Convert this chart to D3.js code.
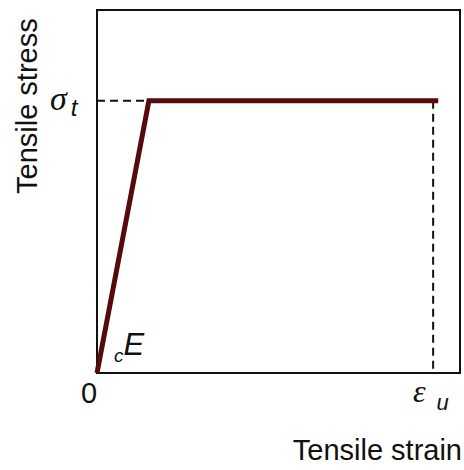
<!DOCTYPE html>
<html lang="en">
<head>
<meta charset="UTF-8">
<title>tensile</title>
<script src="https://cdn.jsdelivr.net/npm/d3@7"></script>
<style>
    body { margin:0; background:#fff; }
    .lbl { font-family: "Liberation Sans", Arial, sans-serif; fill:#111; }
    .sym { font-family: "Liberation Serif", "DejaVu Serif", serif; font-style: italic; fill:#111; }
</style>
</head>
<body>
<div id="chart"></div>
<script>
// normalised strain / stress values of the bilinear model
var strainPts = [0, 0.143, 0.94];
var stressPts = [0, 0.75, 0.75];
var sigmaT = 0.75;      // tensile strength level
var epsU = 0.926;       // ultimate strain
var epsY = 0.143;       // strain at sigma_t

var W = 464, H = 470;
var svg = d3.select("#chart").append("svg")
    .attr("width", W).attr("height", H);

var x = d3.scaleLinear().domain([0, 1]).range([97, 460]);
var y = d3.scaleLinear().domain([0, 1]).range([373, 10]);

// frame
svg.append("rect")
    .attr("x", x(0)).attr("y", y(1))
    .attr("width", x(1) - x(0)).attr("height", y(0) - y(1))
    .attr("fill", "none").attr("stroke", "#111").attr("stroke-width", 2);

// dashed guides
svg.append("line")
    .attr("x1", x(0)).attr("x2", x(epsY))
    .attr("y1", y(sigmaT)).attr("y2", y(sigmaT))
    .attr("stroke", "#111").attr("stroke-width", 2).attr("stroke-dasharray", "8,5");
svg.append("line")
    .attr("x1", x(epsU)).attr("x2", x(epsU))
    .attr("y1", y(sigmaT)).attr("y2", y(0))
    .attr("stroke", "#111").attr("stroke-width", 2).attr("stroke-dasharray", "8,5");

// stress-strain curve
var pts = strainPts.map(function(s, i){ return [s, stressPts[i]]; });
var line = d3.line().x(function(d){ return x(d[0]); }).y(function(d){ return y(d[1]); });
svg.append("path")
    .attr("d", line(pts))
    .attr("fill", "none").attr("stroke", "#560a0c").attr("stroke-width", 5)
    .attr("stroke-linejoin", "miter");

// axis titles
svg.append("text").attr("class", "lbl")
    .attr("transform", "translate(37,194) rotate(-90)")
    .attr("font-size", 29)
    .text("Tensile stress");
svg.append("text").attr("class", "lbl")
    .attr("x", 462).attr("y", 460).attr("text-anchor", "end")
    .attr("font-size", 29)
    .text("Tensile strain");

// symbols
var sig = svg.append("text").attr("class", "sym")
    .attr("x", 50).attr("y", 110).attr("font-size", 34);
sig.append("tspan").text("σ");
sig.append("tspan").attr("class", "lbl").attr("font-size", 24).attr("dx", 4).attr("dy", 6)
    .attr("font-style", "italic").text("t");

svg.append("text").attr("class", "lbl")
    .attr("x", x(0) - 8).attr("y", 403).attr("text-anchor", "middle")
    .attr("font-size", 29).text("0");

var eps = svg.append("text").attr("class", "sym")
    .attr("x", 413).attr("y", 402).attr("font-size", 32);
eps.append("tspan").text("ε");
eps.append("tspan").attr("class", "lbl").attr("font-size", 22).attr("dx", 11).attr("dy", 8)
    .attr("font-style", "italic").text("u");

var ce = svg.append("text").attr("class", "lbl")
    .attr("x", 114).attr("y", 362).attr("font-style", "italic");
ce.append("tspan").attr("font-size", 19).text("c");
ce.append("tspan").attr("font-size", 31).attr("dy", -7).text("E");
</script>
</body>
</html>
